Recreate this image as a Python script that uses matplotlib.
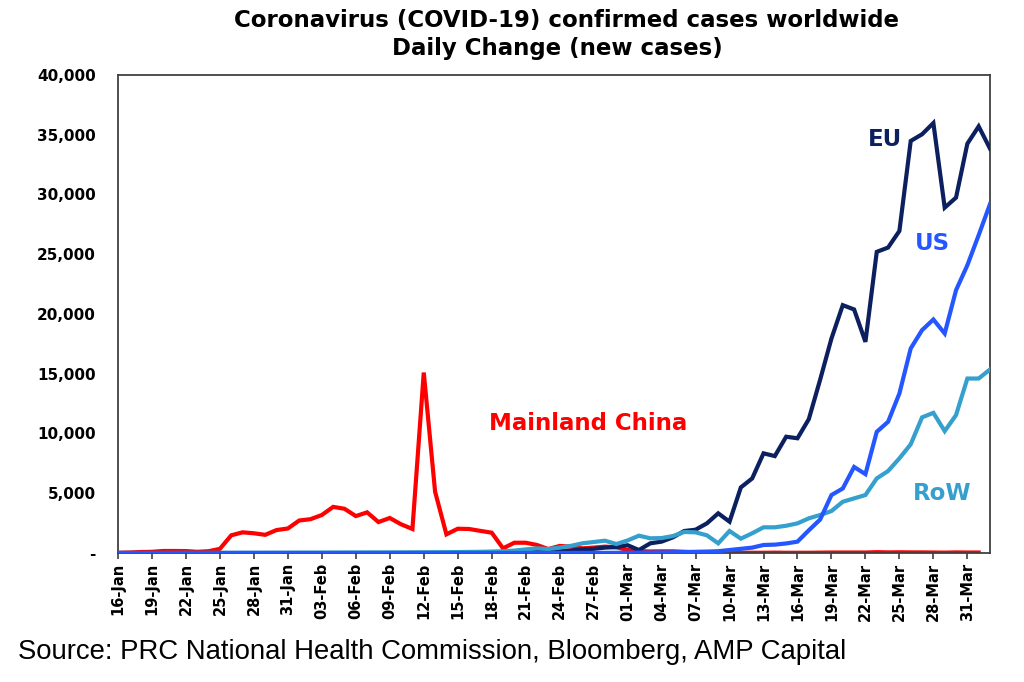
import numpy as np
import matplotlib
matplotlib.use("Agg")
import matplotlib.pyplot as plt
from matplotlib.ticker import FuncFormatter

# daily new cases, 16-Jan .. 02-Apr (78 days)
days = np.arange(78)

tick_labels = ["16-Jan", "19-Jan", "22-Jan", "25-Jan", "28-Jan", "31-Jan",
               "03-Feb", "06-Feb", "09-Feb", "12-Feb", "15-Feb", "18-Feb",
               "21-Feb", "24-Feb", "27-Feb", "01-Mar", "04-Mar", "07-Mar",
               "10-Mar", "13-Mar", "16-Mar", "19-Mar", "22-Mar", "25-Mar",
               "28-Mar", "31-Mar"]

china = [20, 40, 80, 100, 170, 170, 160, 100, 150, 350,
         1480, 1730, 1650, 1520, 1920, 2050, 2720, 2830, 3180, 3860,
         3700, 3090, 3400, 2590, 2930, 2400, 2010, 15100, 5130, 1560,
         2030, 2010, 1850, 1700, 390, 860, 860, 670, 330, 590,
         530, 390, 450, 530, 480, 250, 150, 130, 140, 140,
         100, 50, 40, 30, 20, 20, 20, 20, 30, 20,
         20, 20, 30, 40, 40, 40, 40, 70, 50, 60,
         50, 50, 40, 30, 50, 40, 40, np.nan]

eu = [0, 0, 0, 0, 0, 0, 0, 0, 0, 0,
      0, 0, 0, 0, 0, 0, 0, 0, 0, 0,
      0, 0, 0, 0, 0, 5, 5, 5, 5, 5,
      5, 5, 5, 5, 10, 20, 50, 80, 100, 150,
      200, 300, 350, 450, 500, 650, 250, 810, 950, 1310,
      1840, 1950, 2480, 3320, 2620, 5490, 6240, 8340, 8110, 9730,
      9600, 11200, 14500, 17950, 20740, 20380, 17670, 25200, 25560, 26950,
      34480, 35040, 35980, 28900, 29740, 34250, 35700, 33840]

us = [0, 0, 0, 0, 0, 0, 0, 0, 0, 0,
      0, 0, 0, 0, 0, 0, 0, 0, 0, 0,
      0, 0, 0, 0, 0, 0, 0, 0, 0, 0,
      0, 0, 0, 0, 0, 0, 5, 5, 5, 5,
      10, 10, 10, 10, 15, 20, 30, 40, 50, 60,
      80, 100, 120, 150, 250, 350, 450, 670, 700, 800,
      950, 1900, 2800, 4850, 5400, 7200, 6600, 10140, 10980, 13350,
      17120, 18650, 19540, 18370, 21990, 24080, 26600, 29200]

row = [0, 0, 0, 5, 5, 5, 10, 10, 10, 15,
       15, 20, 20, 20, 25, 25, 30, 30, 30, 35,
       40, 40, 45, 45, 50, 50, 55, 60, 65, 70,
       80, 90, 100, 120, 150, 200, 300, 390, 330, 450,
       600, 810, 920, 1030, 750, 1050, 1450, 1230, 1250, 1420,
       1760, 1730, 1480, 810, 1840, 1200, 1650, 2150, 2150, 2280,
       2480, 2900, 3180, 3510, 4290, 4570, 4850, 6240, 6860, 7920,
       9100, 11350, 11730, 10200, 11540, 14600, 14600, 15360]

c_china = "#FF0000"
c_eu = "#0C2060"
c_us = "#2457FF"
c_row = "#35A0CD"

fig = plt.figure(figsize=(10.24, 6.82), dpi=100)
ax = fig.add_axes([118 / 1024, 1 - 553 / 682, 872 / 1024, 478 / 682])

lw = 3.0
ax.plot(days, china, color=c_china, lw=lw, zorder=2, solid_joinstyle="miter")
ax.plot(days, eu, color=c_eu, lw=lw, zorder=3, solid_joinstyle="miter")
ax.plot(days, row, color=c_row, lw=lw, zorder=4, solid_joinstyle="miter")
ax.plot(days, us, color=c_us, lw=lw, zorder=5, solid_joinstyle="miter")

ax.set_xlim(0, 77)
ax.set_ylim(0, 40000)
ax.set_yticks(np.arange(0, 40001, 5000))
ax.yaxis.set_major_formatter(FuncFormatter(lambda v, p: "-" if v == 0 else f"{int(v):,}"))
ax.set_xticks(np.arange(0, 76, 3))
ax.set_xticklabels(tick_labels, rotation=90)

for s in ax.spines.values():
    s.set_color("#404040")
    s.set_linewidth(1.3)
ax.tick_params(axis="y", length=0, pad=16, labelsize=11)
ax.tick_params(axis="x", length=4, width=1.2, color="#404040", pad=3, labelsize=10.5)
for t in ax.get_yticklabels() + ax.get_xticklabels():
    t.set_fontweight("bold")

# series labels
ax.annotate("Mainland China", xy=(588 / 1024, 1 - 424 / 682), xycoords="figure fraction",
            color=c_china, fontsize=16.5, fontweight="bold", ha="center", va="center")
ax.annotate("EU", xy=(885 / 1024, 1 - 140 / 682), xycoords="figure fraction",
            color=c_eu, fontsize=16.5, fontweight="bold", ha="center", va="center")
ax.annotate("US", xy=(932 / 1024, 1 - 243 / 682), xycoords="figure fraction",
            color=c_us, fontsize=16.5, fontweight="bold", ha="center", va="center")
ax.annotate("RoW", xy=(942 / 1024, 1 - 494 / 682), xycoords="figure fraction",
            color=c_row, fontsize=16.5, fontweight="bold", ha="center", va="center")

fig.text(566 / 1024, 1 - 21 / 682, "Coronavirus (COVID-19) confirmed cases worldwide",
         fontsize=16.5, fontweight="bold", ha="center", va="center")
fig.text(557 / 1024, 1 - 48 / 682, "Daily Change (new cases)",
         fontsize=16.5, fontweight="bold", ha="center", va="center")

fig.text(18 / 1024, 1 - 652 / 682, "Source: PRC National Health Commission, Bloomberg, AMP Capital",
         fontsize=19.8, family="Liberation Sans", ha="left", va="center")

fig.savefig("out.png", dpi=100)
